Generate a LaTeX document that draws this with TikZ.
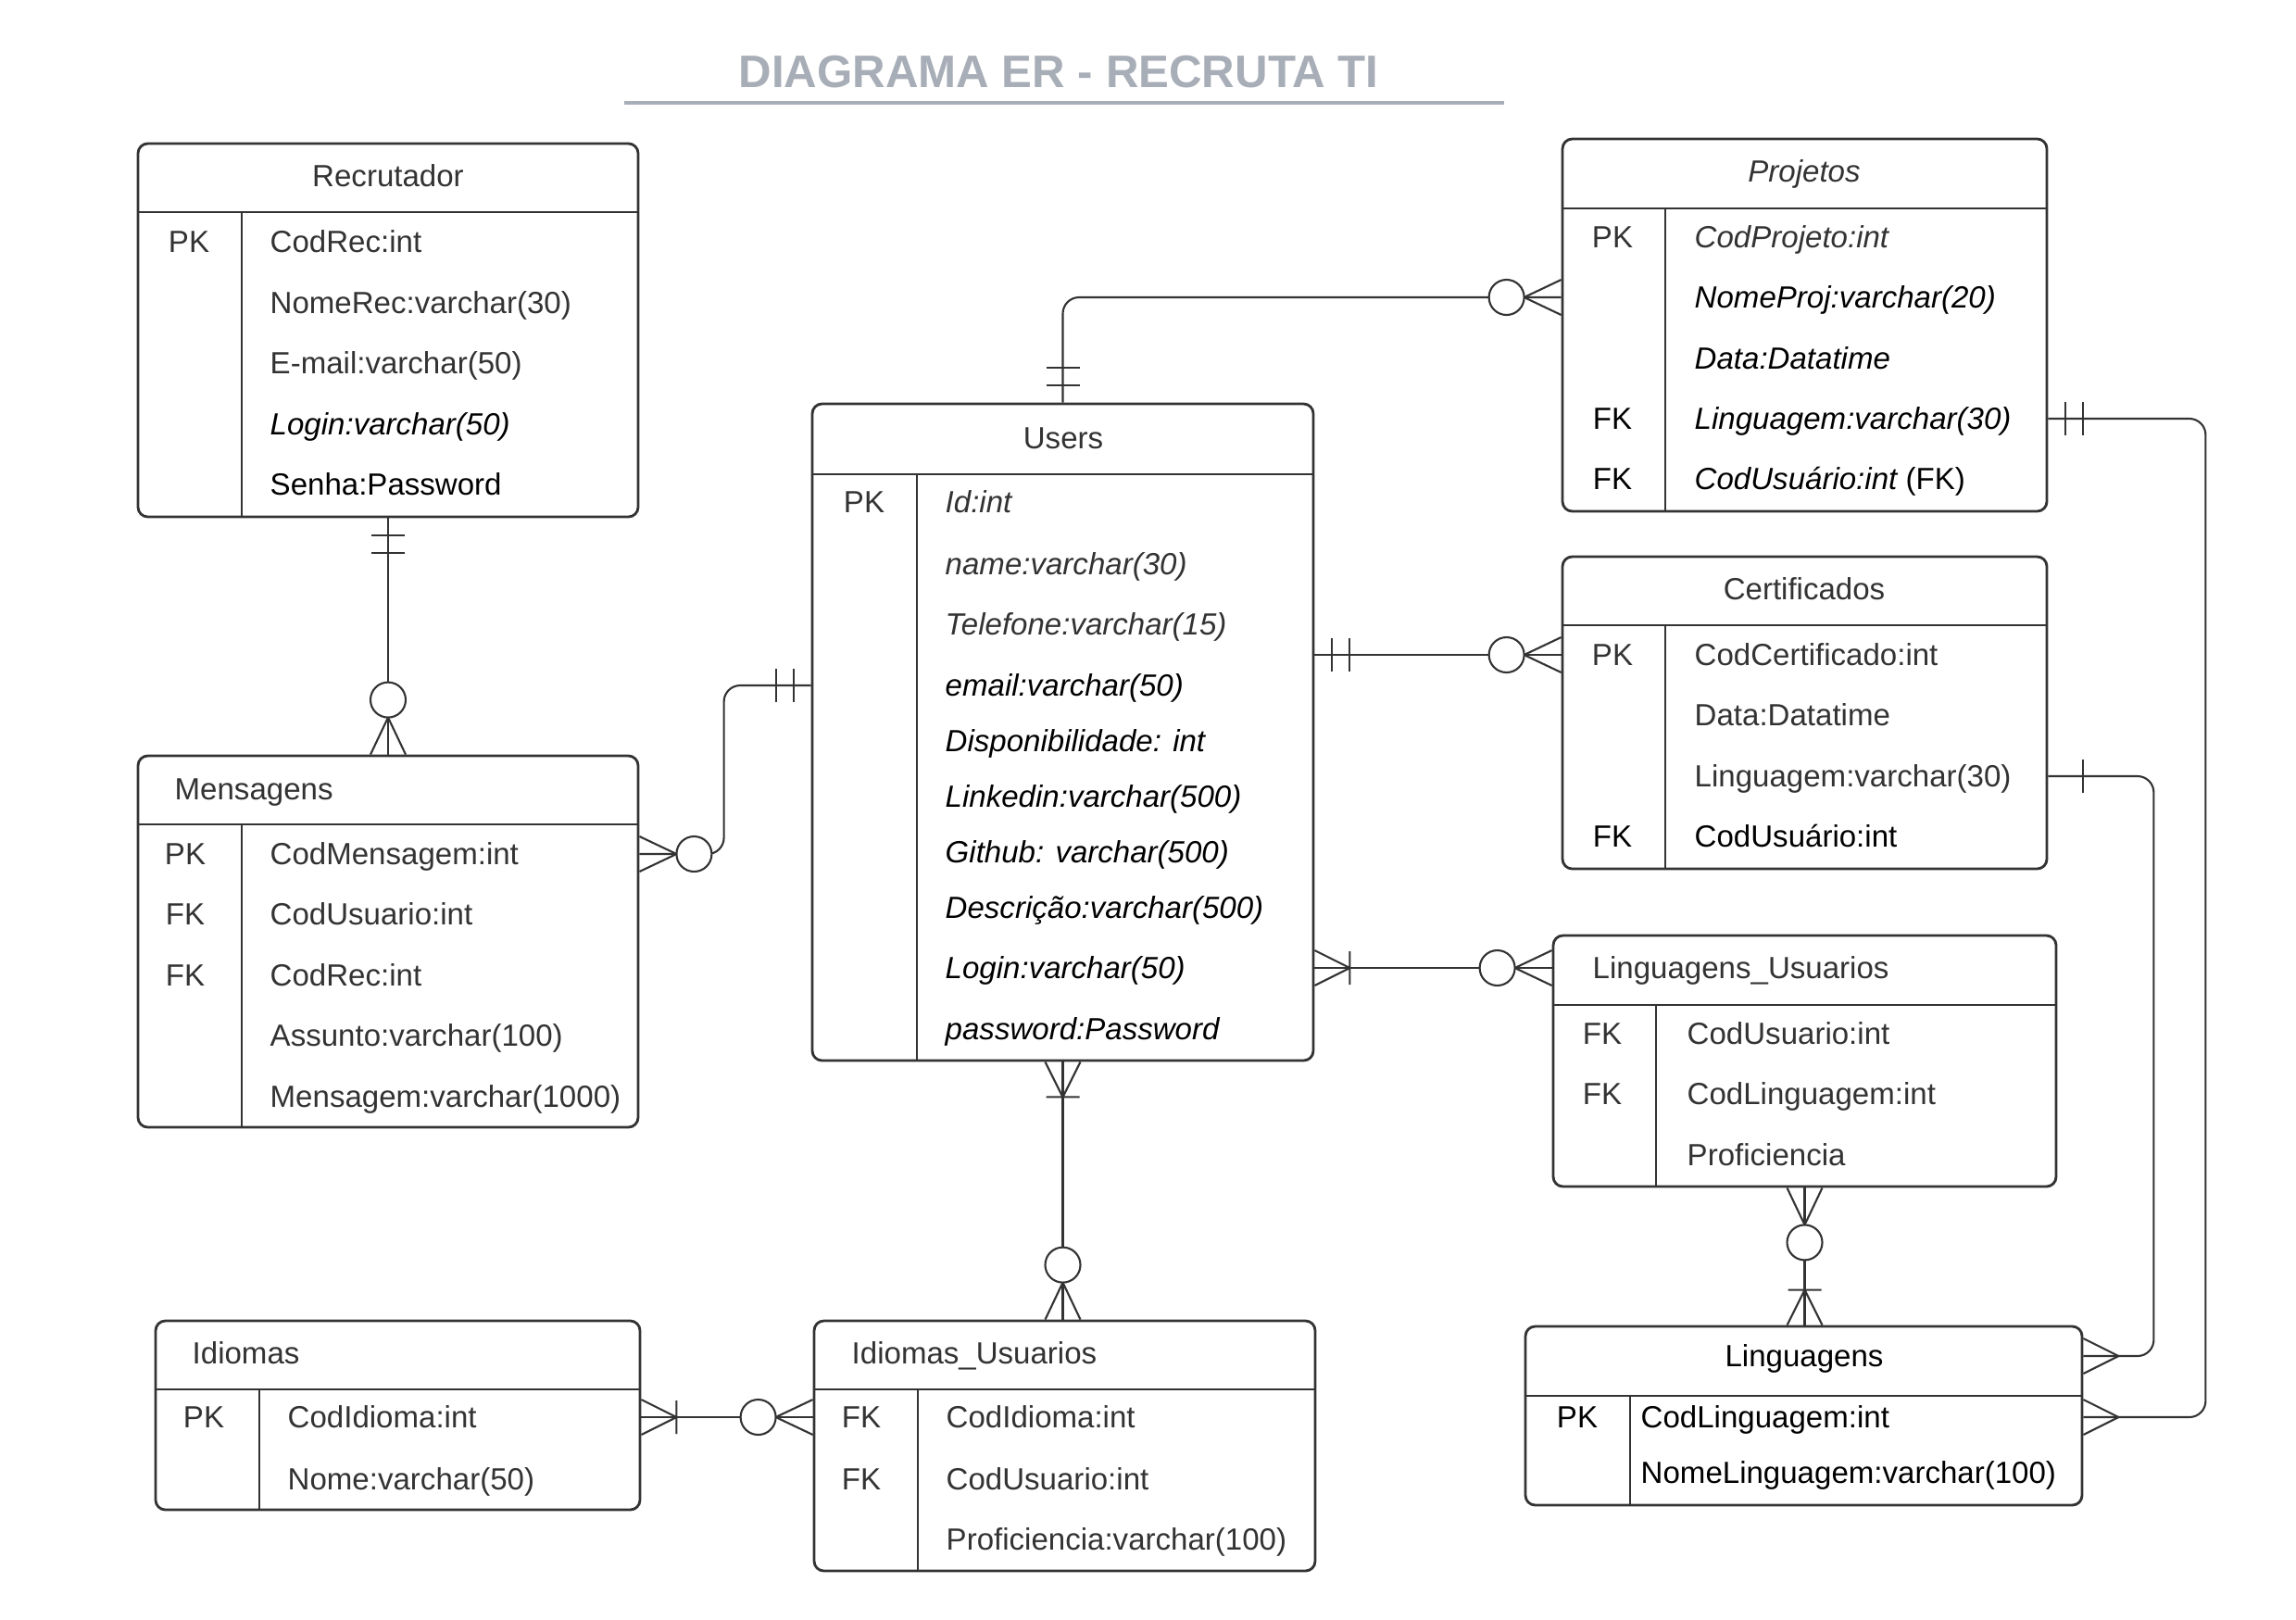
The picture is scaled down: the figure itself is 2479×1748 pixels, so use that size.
\documentclass[tikz,border=0pt]{standalone}
\usepackage{fontspec}
\setmainfont{Liberation Sans}
\usepackage{tikz}
\usetikzlibrary{fit}
\definecolor{cLine}{HTML}{333333}
\definecolor{cText}{HTML}{333333}
\definecolor{cTitle}{HTML}{A8AEB7}
\newcommand{\erfont}{\fontsize{9.4pt}{11.3pt}\selectfont}
\tikzset{
	ent/.style={draw=cLine, line width=0.8pt, rounded corners=3pt, inner sep=0pt, fill=white},
	sep/.style={draw=cLine, line width=0.8pt},
	conn/.style={draw=cLine, line width=0.6pt},
	hdr/.style={inner sep=0pt, text=cText, font=\erfont, text height=1.5ex, text depth=.25ex},
	attr/.style={anchor=west, inner sep=0pt, text=cText, font=\erfont, text height=1.5ex, text depth=.25ex},
	keycol/.style={inner sep=0pt, text=cText, font=\erfont, text height=1.5ex, text depth=.25ex},
	% cardinality marks, drawn along +x away from the entity edge
	bartwo/.pic={\draw[conn] (19,-18) -- (19,18) (38,-18) -- (38,18);},
	barone/.pic={\draw[conn] (38,-18) -- (38,18);},
	crow/.pic={\draw[conn] (0,-19) -- (38,0) -- (0,19);},
	crowbar/.pic={\draw[conn] (0,-19) -- (38,0) -- (0,19) (38,-18) -- (38,18);},
	crowring/.pic={\draw[conn] (0,-19) -- (40,0) -- (0,19); \draw[conn, fill=white] (59,0) circle[radius=19];},
}
% name, x1, y1, x2, y2, header line y, key column x
\newcommand{\erbox}[7]{%
	\node[ent, fit={(#2,#3) (#4,#5)}] (#1) {};
	\draw[sep] (#2,#6) -- (#4,#6);
	\draw[sep] (#7,#6) -- (#7,#5);
}

\begin{document}
\begin{tikzpicture}[x=0.01cm, y=-0.01cm]
	\useasboundingbox (0,0) rectangle (2479,1748);

	\node[font=\fontsize{14pt}{17pt}\selectfont\bfseries, text=cTitle] (title) at (1143,78) {DIAGRAMA ER - RECRUTA TI};
	\draw[cTitle, line width=1.2pt] (674,111) -- (1624,111);

	% Recrutador
	\erbox{rec}{149}{155}{689}{558}{229}{261}
	\node[hdr] (recT) at (419,190) {Recrutador};
	\node[keycol] (recK1) at (204,261) {PK};
	\foreach \y/\t [count=\i] in {261/CodRec:int, 327/NomeRec:varchar(30), 392/E-mail:varchar(50),
			458/{\color{black}\itshape Login:varchar(50)}, 523/{\color{black}Senha:Password}}
		\node[attr] (rec\i) at (291,\y) {\t};

	% Mensagens
	\erbox{msg}{149}{816}{689}{1217}{890}{261}
	\node[hdr, anchor=west] (msgT) at (188,852) {Mensagens};
	\foreach \y/\k [count=\i] in {922/PK, 987/FK, 1053/FK}
		\node[keycol] (msgK\i) at (200,\y) {\k};
	\foreach \y/\t [count=\i] in {922/CodMensagem:int, 987/CodUsuario:int, 1053/CodRec:int,
			1118/Assunto:varchar(100), 1184/Mensagem:varchar(1000)}
		\node[attr] (msg\i) at (291,\y) {\t};

	% Users
	\erbox{users}{877}{436}{1418}{1145}{512}{990}
	\node[hdr] (usersT) at (1148,473) {Users};
	\node[keycol] (usrK1) at (933,542) {PK};
	\foreach \y/\t [count=\i] in {542/Id:int, 609/name:varchar(30), 674/Telefone:varchar(15),
			740/{\color{black}email:varchar(50)}, 800/{\color{black}Disponibilidade: int},
			860/{\color{black}Linkedin:varchar(500)}, 920/{\color{black}Github: varchar(500)},
			980/{\color{black}Descrição:varchar(500)}, 1045/{\color{black}Login:varchar(50)},
			1111/{\color{black}password:Password}}
		\node[attr, font=\erfont\itshape] (usr\i) at (1020,\y) {\t};

	% Projetos
	\erbox{proj}{1687}{150}{2210}{552}{225}{1798}
	\node[hdr, font=\erfont\itshape] (projT) at (1948,185) {Projetos};
	\node[keycol] (projK1) at (1741,256) {PK};
	\node[keycol, text=black] (projK4) at (1741,452) {FK};
	\node[keycol, text=black] (projK5) at (1741,517) {FK};
	\foreach \y/\t [count=\i] in {256/CodProjeto:int, 321/{\color{black}NomeProj:varchar(20)},
			387/{\color{black}Data:Datatime}, 452/{\color{black}Linguagem:varchar(30)},
			517/{\color{black}CodUsuário:int {\upshape (FK)}}}
		\node[attr, font=\erfont\itshape] (proj\i) at (1829,\y) {\t};

	% Certificados
	\erbox{cert}{1687}{601}{2210}{938}{675}{1798}
	\node[hdr] (certT) at (1948,636) {Certificados};
	\node[keycol] (certK1) at (1741,707) {PK};
	\node[keycol, text=black] (certK4) at (1741,903) {FK};
	\foreach \y/\t [count=\i] in {707/CodCertificado:int, 772/Data:Datatime, 838/Linguagem:varchar(30),
			903/{\color{black}CodUsuário:int}}
		\node[attr] (cert\i) at (1829,\y) {\t};

	% Linguagens_Usuarios
	\erbox{lu}{1677}{1010}{2220}{1281}{1085}{1788}
	\node[hdr, anchor=west] (luT) at (1719,1045) {Linguagens\_Usuarios};
	\foreach \y [count=\i] in {1116, 1181}
		\node[keycol] (luK\i) at (1730,\y) {FK};
	\foreach \y/\t [count=\i] in {1116/CodUsuario:int, 1181/CodLinguagem:int, 1247/Proficiencia}
		\node[attr] (lu\i) at (1821,\y) {\t};

	% Linguagens
	\erbox{ling}{1647}{1432}{2248}{1625}{1507}{1760}
	\node[hdr, text=black] (lingT) at (1948,1464) {Linguagens};
	\node[keycol, text=black] (lingK1) at (1703,1530) {PK};
	\node[attr, text=black] (ling1) at (1771,1530) {CodLinguagem:int};
	\node[attr, text=black] (ling2) at (1771,1590) {NomeLinguagem:varchar(100)};

	% Idiomas
	\erbox{idi}{168}{1426}{691}{1630}{1500}{280}
	\node[hdr, anchor=west] (idiT) at (207,1461) {Idiomas};
	\node[keycol] (idiK1) at (220,1530) {PK};
	\node[attr] (idi1) at (310,1530) {CodIdioma:int};
	\node[attr] (idi2) at (310,1597) {Nome:varchar(50)};

	% Idiomas_Usuarios
	\erbox{iu}{879}{1426}{1420}{1696}{1500}{991}
	\node[hdr, anchor=west] (iuT) at (919,1461) {Idiomas\_Usuarios};
	\foreach \y [count=\i] in {1530, 1597}
		\node[keycol] (iuK\i) at (930,\y) {FK};
	\foreach \y/\t [count=\i] in {1530/CodIdioma:int, 1597/CodUsuario:int, 1662/Proficiencia:varchar(100)}
		\node[attr] (iu\i) at (1021,\y) {\t};

	% relationships
	\draw[conn] (rec.south) -- (msg.north);
	\draw[conn, rounded corners=5pt] (users.west |- usr4) -- ++(-94,0) |- (msg.east |- msg1);
	\draw[conn, rounded corners=5pt] (users.north) |- (proj.west |- proj2);
	\draw[conn] (users.east |- cert1) -- (cert.west |- cert1);
	\draw[conn] (users.east |- usr9) -- (lu.west |- usr9);
	\draw[conn] (users.south) -- (users.south |- iu.north);
	\draw[conn] (idi.east |- idi1) -- (iu.west |- idi1);
	\draw[conn] (lu.south) -- (lu.south |- ling.north);
	\draw[conn, rounded corners=5pt] (cert.east |- cert3) -- ++(114,0) |- (ling.east |- lingT);
	\draw[conn, rounded corners=5pt] (proj.east |- proj4) -- ++(170,0) |- (ling.east |- ling1);

	\pic[rotate=-90] at (rec.south) {bartwo};
	\pic[rotate=90] at (msg.north) {crowring};
	\pic[rotate=180] at (users.west |- usr4) {bartwo};
	\pic at (msg.east |- msg1) {crowring};
	\pic[rotate=90] at (users.north) {bartwo};
	\pic[rotate=180] at (proj.west |- proj2) {crowring};
	\pic at (users.east |- cert1) {bartwo};
	\pic[rotate=180] at (cert.west |- cert1) {crowring};
	\pic at (users.east |- usr9) {crowbar};
	\pic[rotate=180] at (lu.west |- usr9) {crowring};
	\pic[rotate=-90] at (users.south) {crowbar};
	\pic[rotate=90] at (users.south |- iu.north) {crowring};
	\pic at (idi.east |- idi1) {crowbar};
	\pic[rotate=180] at (iu.west |- idi1) {crowring};
	\pic[rotate=-90] at (lu.south) {crowring};
	\pic[rotate=90] at (lu.south |- ling.north) {crowbar};
	\pic at (cert.east |- cert3) {barone};
	\pic at (ling.east |- lingT) {crow};
	\pic at (proj.east |- proj4) {bartwo};
	\pic at (ling.east |- ling1) {crow};
\end{tikzpicture}
\end{document}
